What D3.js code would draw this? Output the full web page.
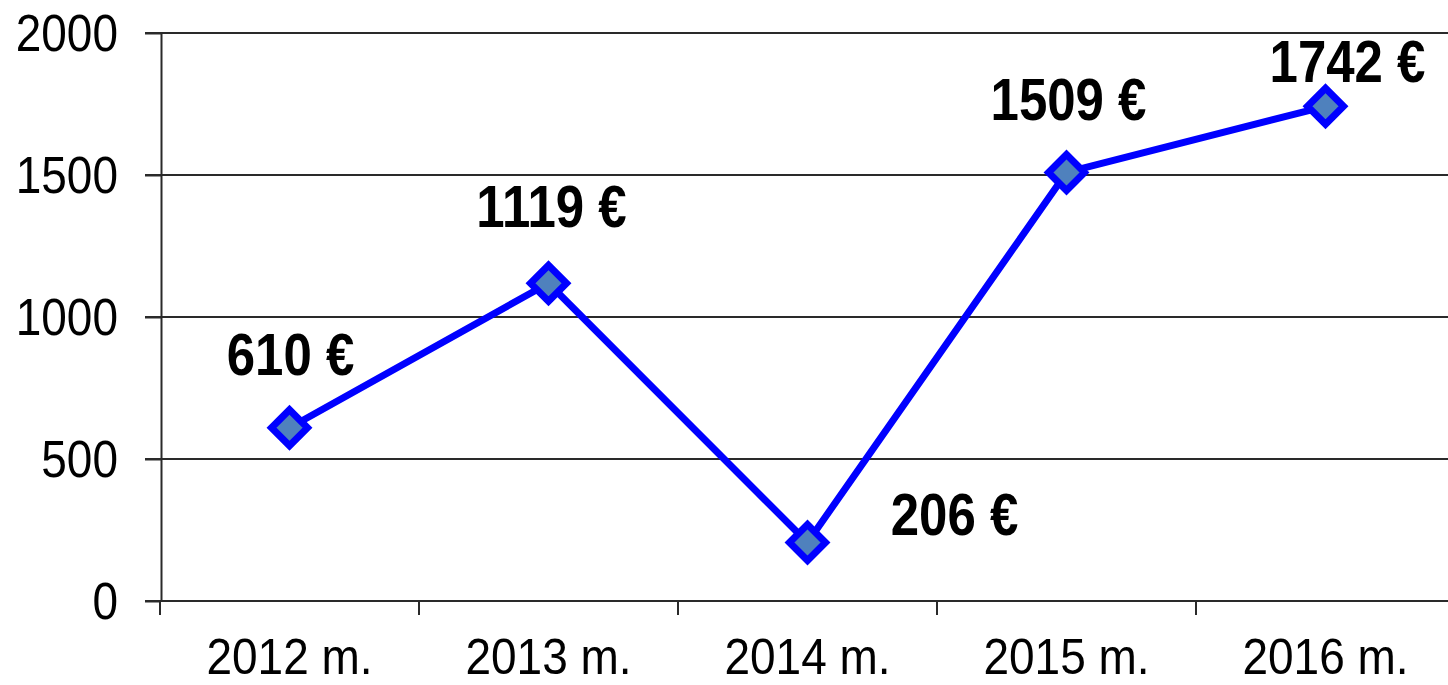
<!DOCTYPE html>
<html>
<head>
<meta charset="utf-8">
<script src="https://cdn.jsdelivr.net/npm/d3@7"></script>
<style>
  html, body { margin: 0; padding: 0; background: #fff; overflow: hidden; }
  svg { display: block; }
</style>
</head>
<body>
<svg width="1448" height="685"></svg>
<script>
const years = ["2012 m.", "2013 m.", "2014 m.", "2015 m.", "2016 m."];
const amounts = [610, 1119, 206, 1509, 1742];
const yTicks = [0, 500, 1000, 1500, 2000];

// label placement relative to each point (px)
const labelOffsets = [[1, -53], [3, -56], [147, -7], [2, -52], [22, -24]];

const svg = d3.select("svg");
const margin = { top: 33, left: 161, bottom: 601 };
const font = "'Liberation Sans', Arial, sans-serif";

const x = d3.scaleBand().domain(years).range([160, 160 + 5 * 259]);
const y = d3.scaleLinear().domain([0, 2000]).range([margin.bottom, margin.top]);

// gridlines
svg.append("g")
  .selectAll("line")
  .data(yTicks.filter(d => d > 0))
  .join("line")
  .attr("x1", margin.left - 16)
  .attr("x2", 1460)
  .attr("y1", d => y(d))
  .attr("y2", d => y(d))
  .attr("stroke", "#2a2a2a")
  .attr("stroke-width", 2);

// y axis
const yAxis = svg.append("g")
  .attr("transform", `translate(${margin.left},0)`)
  .call(d3.axisLeft(y).tickValues(yTicks).tickSize(16).tickSizeOuter(0).tickFormat(d3.format("d")));
yAxis.select(".domain").attr("stroke", "#2a2a2a").attr("stroke-width", 2);
yAxis.selectAll(".tick line").attr("stroke", "#2a2a2a").attr("stroke-width", 2);
yAxis.selectAll(".tick text")
  .attr("x", -43)
  .attr("dy", null)
  .attr("y", 0)
  .attr("font-family", font)
  .attr("font-size", 46)
  .attr("fill", "#000")
  .attr("transform", "translate(0,17) scale(1,1.12)");

// x axis
const xAxis = svg.append("g")
  .attr("transform", `translate(0,${margin.bottom})`)
  .call(d3.axisBottom(x).tickSize(0).tickSizeOuter(0));
xAxis.select(".domain").attr("stroke", "#2a2a2a").attr("stroke-width", 2)
  .attr("d", `M${margin.left - 16},0H1460`);
xAxis.selectAll(".tick text")
  .attr("y", 0)
  .attr("dy", null)
  .attr("font-family", font)
  .attr("font-size", 46)
  .attr("fill", "#000")
  .attr("transform", "translate(0,73) scale(1,1.1)");

// x category separators
svg.append("g")
  .selectAll("line")
  .data(d3.range(years.length))
  .join("line")
  .attr("x1", i => x(years[i]))
  .attr("x2", i => x(years[i]))
  .attr("y1", margin.bottom)
  .attr("y2", margin.bottom + 14)
  .attr("stroke", "#2a2a2a")
  .attr("stroke-width", 2);

const cx = d => x(d.year) + x.bandwidth() / 2;
const points = years.map((year, i) => ({ year, value: amounts[i], off: labelOffsets[i] }));

// line
svg.append("path")
  .datum(points)
  .attr("fill", "none")
  .attr("stroke", "#0000ff")
  .attr("stroke-width", 7)
  .attr("stroke-linejoin", "round")
  .attr("d", d3.line().x(cx).y(d => y(d.value)));

// markers
const r = 18;
svg.append("g")
  .selectAll("path")
  .data(points)
  .join("path")
  .attr("transform", d => `translate(${cx(d)},${y(d.value)})`)
  .attr("d", `M0,${-r}L${r},0L0,${r}L${-r},0Z`)
  .attr("fill", "#4f81bd")
  .attr("stroke", "#0000ff")
  .attr("stroke-width", 7)
  .attr("stroke-linejoin", "miter");

// value labels
svg.append("g")
  .selectAll("text")
  .data(points)
  .join("text")
  .attr("transform", d => `translate(${cx(d) + d.off[0]},${y(d.value) + d.off[1]}) scale(1,1.15)`)
  .attr("text-anchor", "middle")
  .attr("font-family", font)
  .attr("font-weight", "bold")
  .attr("font-size", 51)
  .attr("fill", "#000")
  .text(d => `${d.value} €`);
</script>
</body>
</html>
